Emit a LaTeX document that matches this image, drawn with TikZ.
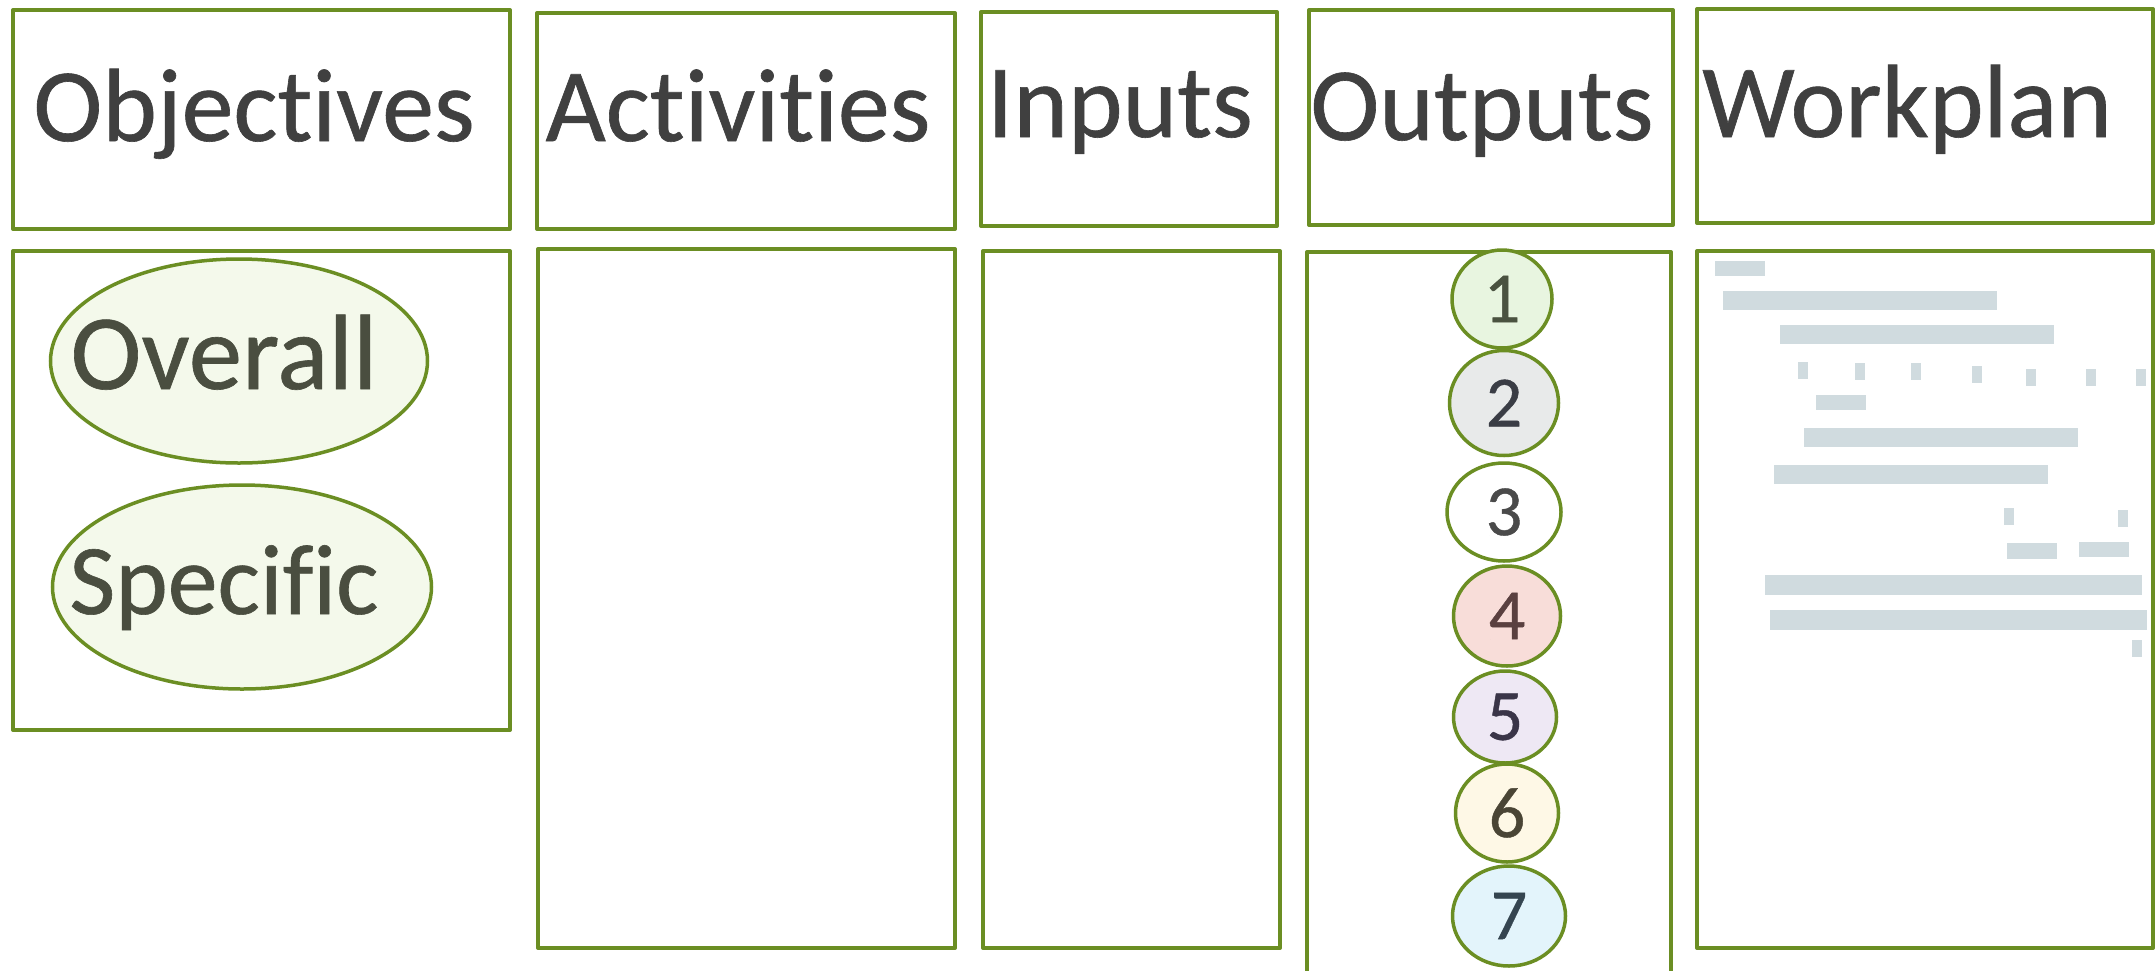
\documentclass[tikz,border=0pt]{standalone}
\usepackage{fontspec}
\setmainfont[Ligatures=NoCommon,FakeBold=0.6]{Carlito}
\usetikzlibrary{shapes.geometric}
\definecolor{frame}{RGB}{107,142,35}
\definecolor{headtext}{RGB}{64,64,64}
\definecolor{objfill}{RGB}{244,249,235}
\definecolor{objtext}{RGB}{74,78,64}
\definecolor{barfill}{RGB}{208,219,223}
\definecolor{oA}{RGB}{232,245,224}
\definecolor{oB}{RGB}{232,234,234}
\definecolor{oC}{RGB}{255,255,255}
\definecolor{oD}{RGB}{248,221,217}
\definecolor{oE}{RGB}{238,232,244}
\definecolor{oF}{RGB}{254,248,230}
\definecolor{oG}{RGB}{227,244,251}
\definecolor{tA}{RGB}{74,82,64}
\definecolor{tB}{RGB}{58,61,69}
\definecolor{tC}{RGB}{74,74,74}
\definecolor{tD}{RGB}{90,64,64}
\definecolor{tE}{RGB}{58,53,72}
\definecolor{tF}{RGB}{74,69,53}
\definecolor{tG}{RGB}{53,69,80}
\begin{document}
\begin{tikzpicture}[x=1pt,y=-1pt,
  panel/.style={draw=frame, line width=4pt, line join=round, inner sep=0pt, anchor=north west},
  frameline/.style={draw=frame, line width=4pt, line join=round},
  headlabel/.style={anchor=base, text=headtext, inner sep=0pt, font=\fontsize{104}{120}\selectfont},
  objoval/.style={ellipse, draw=frame, line width=3.5pt, fill=objfill, inner sep=0pt},
  objlabel/.style={anchor=base, text=objtext, inner sep=0pt},
  outoval/.style={ellipse, draw=frame, line width=3.5pt, inner sep=0pt, font=\fontsize{72}{84}\selectfont},
  bar/.style={fill=barfill}]
\useasboundingbox (0,0) rectangle (2155,970);
\fill[white] (0,0) rectangle (2155,970);

% header panels
\node[panel, minimum width=497pt, minimum height=219pt] (h1) at (11,8) {};
\node[panel, minimum width=418pt, minimum height=216pt] (h2) at (535,11) {};
\node[panel, minimum width=296pt, minimum height=214pt] (h3) at (979,10) {};
\node[panel, minimum width=364pt, minimum height=215pt] (h4) at (1307,8) {};
\node[panel, minimum width=456pt, minimum height=214pt] (h5) at (1695,7) {};

\node[headlabel] (l1) at (254,141) {Objectives};
\node[headlabel] (l2) at (738,141) {Activities};
\node[headlabel] (l3) at (1120,137) {Inputs};
\node[headlabel] (l4) at (1482,140) {Outputs};
\node[headlabel] (l5) at (1907,137) {Workplan};

% body panels
\node[panel, minimum width=497pt, minimum height=479pt] (b1) at (11,249) {};
\node[panel, minimum width=417pt, minimum height=699pt] (b2) at (536,247) {};
\node[panel, minimum width=297pt, minimum height=697pt] (b3) at (981,249) {};
\node[panel, minimum width=456pt, minimum height=697pt] (b5) at (1695,249) {};
\coordinate (b4a) at (1307,990);
\coordinate (b4b) at (1307,252);
\coordinate (b4c) at (1671,252);
\coordinate (b4d) at (1671,990);
\begin{scope}
\clip (0,0) rectangle (2155,970);
\draw[frameline] (b4a) -- (b4b) -- (b4c) -- (b4d);
\end{scope}

% objectives
\node[objoval, minimum width=377pt, minimum height=204pt] (ov) at (239,361) {};
\node[objoval, minimum width=379pt, minimum height=204pt] (sp) at (242,587) {};
\node[objlabel, font=\fontsize{107}{120}\selectfont] (ovt) at (224,389) {Overall};
\node[objlabel, font=\fontsize{100}{115}\selectfont] (spt) at (224,614) {Specific};

% outputs
\node[outoval, fill=oA, text=tA, minimum width=100pt, minimum height=98pt] (o1) at (1502,299) {1};
\node[outoval, fill=oB, text=tB, minimum width=109pt, minimum height=105pt] (o2) at (1504,403) {2};
\node[outoval, fill=oC, text=tC, minimum width=114pt, minimum height=98pt] (o3) at (1504,512) {3};
\node[outoval, fill=oD, text=tD, minimum width=107pt, minimum height=100pt] (o4) at (1507,616) {4};
\node[outoval, fill=oE, text=tE, minimum width=103pt, minimum height=92pt] (o5) at (1505,717) {5};
\node[outoval, fill=oF, text=tF, minimum width=103pt, minimum height=98pt] (o6) at (1507,813) {6};
\node[outoval, fill=oG, text=tG, minimum width=113pt, minimum height=100pt] (o7) at (1509,916) {7};

% workplan bars
\fill[bar] (1715,261) rectangle (1765,276);
\fill[bar] (1723,291) rectangle (1997,310);
\fill[bar] (1780,325) rectangle (2054,344);
\fill[bar] (1798,362) rectangle (1808,379);
\fill[bar] (1855,363) rectangle (1865,380);
\fill[bar] (1911,363) rectangle (1921,380);
\fill[bar] (1972,366) rectangle (1982,383);
\fill[bar] (2026,369) rectangle (2036,386);
\fill[bar] (2086,369) rectangle (2096,386);
\fill[bar] (2136,369) rectangle (2146,386);
\fill[bar] (1816,395) rectangle (1866,410);
\fill[bar] (1804,428) rectangle (2078,447);
\fill[bar] (1774,465) rectangle (2048,484);
\fill[bar] (2004,508) rectangle (2014,525);
\fill[bar] (2118,510) rectangle (2128,527);
\fill[bar] (2007,543) rectangle (2057,559);
\fill[bar] (2079,542) rectangle (2129,557);
\fill[bar] (1765,575) rectangle (2142,595);
\fill[bar] (1770,610) rectangle (2147,630);
\fill[bar] (2132,640) rectangle (2142,657);
\end{tikzpicture}
\end{document}
